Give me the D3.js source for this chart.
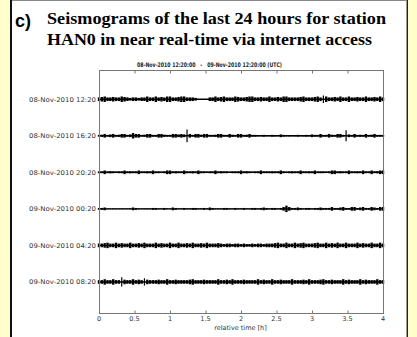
<!DOCTYPE html>
<html>
<head>
<meta charset="utf-8">
<script src="https://cdn.jsdelivr.net/npm/d3@7"></script>
<style>
  html, body { margin: 0; padding: 0; background: #ffffcc; }
  svg { display: block; }
</style>
</head>
<body>
<script>
// station traces, one row per 4 hour window
var rowLabels = ["08-Nov-2010 12:20", "08-Nov-2010 16:20", "08-Nov-2010 20:20",
                 "09-Nov-2010 00:20", "09-Nov-2010 04:20", "09-Nov-2010 08:20"];
var xTicks = [0, 0.5, 1, 1.5, 2, 2.5, 3, 3.5, 4];
var sampleStep = 0.04; // hours per bin

// peak amplitude per bin (counts)
var trace0 = [2,2.5,3,2,2,2.5,2,2,3,2.5, 2,1.5,2,2,1.5,2,2,3,2,2, 3,2,2.5,2,3,3,2,2,2.5,3, 3,2,2,2,1.5,0.3,0.3,0.3,0.3,2, 2,3,2,2.5,3,2,2,2,3,2.5, 2,2,2.5,3,3,2,2,2.5,2,2, 3,2,2,2.5,2,3,3,2,2,2, 2,2.5,3,2,2,2,2.5,3,2,4, 3,2,2,2.5,2,3,2,2,3,2, 2,2.5,2,2,3,2,2,2.5,2,3, 2];
var trace1 = [1,1.2,2,1,1.5,2,1,1.2,2,2, 1,1.5,3,2,2,1,1.2,2,2,1, 1,2,2,1.2,1,1,2,2,1.5,2, 1.5,7,2,1,2,2,1.2,2,2,1, 1,1.2,2,2,1,1,2,1.2,1,2, 2,1,1.2,2,1,1,0.7,0.6,1,0.7, 0.6,1,0.8,0.6,1.5,1,0.7,0.8,0.6,0.7, 1,0.6,0.8,1,0.7,1.5,1,1,2,1, 1,2,1.2,1,2,2,1,6,1.5,1, 2,1,1.2,1,2,1,1.2,2,1,1, 1];
var trace2 = [1,1,2,1,1.2,1,0.8,1,1,2, 1,1.2,1,1,2,1,1,1.2,1,2, 1,1,0.8,1,2,2,1,1.2,1,1, 2,1,1,1.2,1,2,1,1,0.8,1, 1,2,1,1.2,1,1,0.7,1,1,1, 2,1,1.2,1,0.8,1,1,2,1,1, 1,1.2,1,1,2,1,0.8,1,1.2,1, 1,2,1,1,1.2,1,2,1,1,1, 0.8,1,2,2,1,1.2,1,1,2,1, 1,1.2,1,2,1,1,2,1,1.2,2, 2];
var trace3 = [1,1,1.5,0.5,0.4,0.5,0.4,0.4,0.5,0.4, 0.4,0.5,1.5,1,0.5,0.4,0.5,0.5,0.4,1, 1,0.5,0.5,1,0.5,0.4,1.5,1,0.5,0.5, 1,0.5,0.5,1,1,0.5,0.5,1,0.5,1.5, 1,0.5,0.5,0.5,1,1,0.5,0.5,1,0.5, 0.5,1,0.5,0.5,1,1,0.5,1,1.5,1, 0.5,1,1,0.5,1,2,3.5,2,1,1, 1.5,1,0.5,1,1,0.5,1,1,1.5,1, 1,1,2,1,1,1.5,2,1,1,2, 2,1,1.5,2,1,1,2,1.5,1,2, 2];
var trace4 = [2,2,2.5,3,2,2,3,2,2.5,2, 2,3,2,2,2.5,2,3,2,2,2, 3,2,2.5,2,2,3,2,2,3,2, 2,2.5,2,3,2,2,2.5,2,3,2, 2,2,2.5,2,1.5,2,2,1.5,2,2, 1.5,2,1.5,1.5,2,1.5,2,2,1.5,2, 2,2,2.5,3,2,2,3,2,2,3, 2,2.5,3,2,2,2,2.5,3,2,2, 3,2,2.5,2,3,2,2,3,2,2, 2,3,2,2.5,2,2,3,2,2,3, 2];
var trace5 = [2,2,3,2,2,3,2,2,5,2.5, 2,2,3,2,2.5,2,4,2.5,2,2, 2,2.5,2,2,3,2,2,2.5,2,2, 2,2,2.5,3,2,2,2,2.5,2,2, 2,2,3,2,2,2.5,2,3,2,2, 2,2.5,2,2,2,2,3,2,2.5,2, 2,3,2,2,2.5,2,2,2,3,2, 2,2,2.5,2,3,2,2,2,2.5,3, 2,2,2.5,2,2,2,3,2,2.5,2, 2,2,3,2,2.5,2,2,2,3,2, 2];
var traces = [trace0, trace1, trace2, trace3, trace4, trace5];

var W = 417, H = 337;
var margin = {top: 70, right: 34, bottom: 24, left: 99};
var gain = 0.025; // rows per count

var svg = d3.select("body").append("svg")
  .attr("width", W).attr("height", H);

// white panel
svg.append("rect").attr("x", 11).attr("y", 0).attr("width", 397).attr("height", H).attr("fill", "#fff");
svg.append("line").attr("x1", 11).attr("x2", 408).attr("y1", 0.5).attr("y2", 0.5).attr("stroke", "#888");
svg.append("line").attr("x1", 11).attr("x2", 11).attr("y1", 0).attr("y2", H).attr("stroke", "#111").attr("stroke-width", 2);
svg.append("line").attr("x1", 406.5).attr("x2", 406.5).attr("y1", 0).attr("y2", H).attr("stroke", "#999");
svg.append("line").attr("x1", 407.5).attr("x2", 407.5).attr("y1", 0).attr("y2", H).attr("stroke", "#222");

// titles
svg.append("text").attr("x", 15).attr("y", 27)
  .attr("font-family", "Liberation Sans, Arial, sans-serif").attr("font-weight", "bold")
  .attr("font-size", 18).text("c)");
svg.append("text").attr("x", 47).attr("y", 24).attr("textLength", 339).attr("lengthAdjust", "spacingAndGlyphs")
  .attr("font-family", "Liberation Serif, Times New Roman, serif").attr("font-weight", "bold")
  .attr("font-size", 17.5).text("Seismograms of the last 24 hours for station");
svg.append("text").attr("x", 47).attr("y", 45).attr("textLength", 325).attr("lengthAdjust", "spacingAndGlyphs")
  .attr("font-family", "Liberation Serif, Times New Roman, serif").attr("font-weight", "bold")
  .attr("font-size", 17.5).text("HAN0 in near real-time via internet access");

var x0 = margin.left, x1 = W - margin.right, y0 = margin.top, y1 = H - margin.bottom;

var x = d3.scaleLinear().domain([0, 4]).range([x0, x1]);
var y = d3.scaleLinear().domain([-0.8, 5.85]).range([y0, y1]);

svg.append("text").attr("x", 137).attr("y", 66.5)
  .attr("textLength", 145).attr("lengthAdjust", "spacingAndGlyphs")
  .style("white-space", "pre")
  .attr("font-family", "DejaVu Sans, sans-serif").attr("font-weight", "bold")
  .attr("font-size", 6.3).attr("fill", "#222")
  .text("08-Nov-2010 12:20:00   -   09-Nov-2010 12:20:00 (UTC)");

var plot = svg.append("g");

// traces: vertical min/max bar per bin plus a base line
traces.forEach(function(tr, i) {
  var g = plot.append("g");
  g.append("line").attr("x1", x(0)).attr("x2", x(4))
    .attr("y1", y(i)).attr("y2", y(i)).attr("stroke", "#000").attr("stroke-width", 1.4);
  g.selectAll("line.bin").data(tr).enter().append("line")
    .attr("class", "bin")
    .attr("x1", function(d, k) { return x(k * sampleStep); })
    .attr("x2", function(d, k) { return x(k * sampleStep); })
    .attr("y1", function(d) { return y(i - d * gain); })
    .attr("y2", function(d) { return y(i + d * gain); })
    .attr("stroke", "#000")
    .attr("stroke-width", function(d) { return d > 3.5 ? 1.2 : 2.4; });
});

// frame
svg.append("rect").attr("x", x0 + 0.5).attr("y", y0 + 0.5)
  .attr("width", x1 - x0).attr("height", y1 - y0)
  .attr("fill", "none").attr("stroke", "#777");

// axes
var axB = svg.append("g").attr("transform", "translate(0," + (y1 + 0.5) + ")")
  .call(d3.axisTop(x).tickValues(xTicks).tickSize(3).tickFormat(""));
var axT = svg.append("g").attr("transform", "translate(0," + (y0 + 0.5) + ")")
  .call(d3.axisBottom(x).tickValues(xTicks).tickSize(3).tickFormat(""));
[axB, axT].forEach(function(a) {
  a.select(".domain").remove();
  a.selectAll(".tick line").attr("stroke", "#777");
});

svg.append("g").selectAll("text").data(xTicks).enter().append("text")
  .attr("x", function(d) { return x(d); }).attr("y", 320.5)
  .attr("text-anchor", "middle")
  .attr("font-family", "DejaVu Sans, sans-serif").attr("font-size", 6.5).attr("fill", "#333")
  .text(function(d) { return d; });

svg.append("text").attr("x", 240.5).attr("y", 329.5).attr("text-anchor", "middle")
  .attr("font-family", "DejaVu Sans, sans-serif").attr("font-size", 6.5).attr("fill", "#333")
  .text("relative time [h]");

svg.append("g").selectAll("text").data(rowLabels).enter().append("text")
  .attr("x", 29).attr("y", function(d, i) { return y(i) + 2.3; })
  .attr("textLength", 67).attr("lengthAdjust", "spacingAndGlyphs")
  .attr("font-family", "DejaVu Sans, sans-serif").attr("font-size", 6.5).attr("fill", "#333")
  .text(function(d) { return d; });
</script>
</body>
</html>
